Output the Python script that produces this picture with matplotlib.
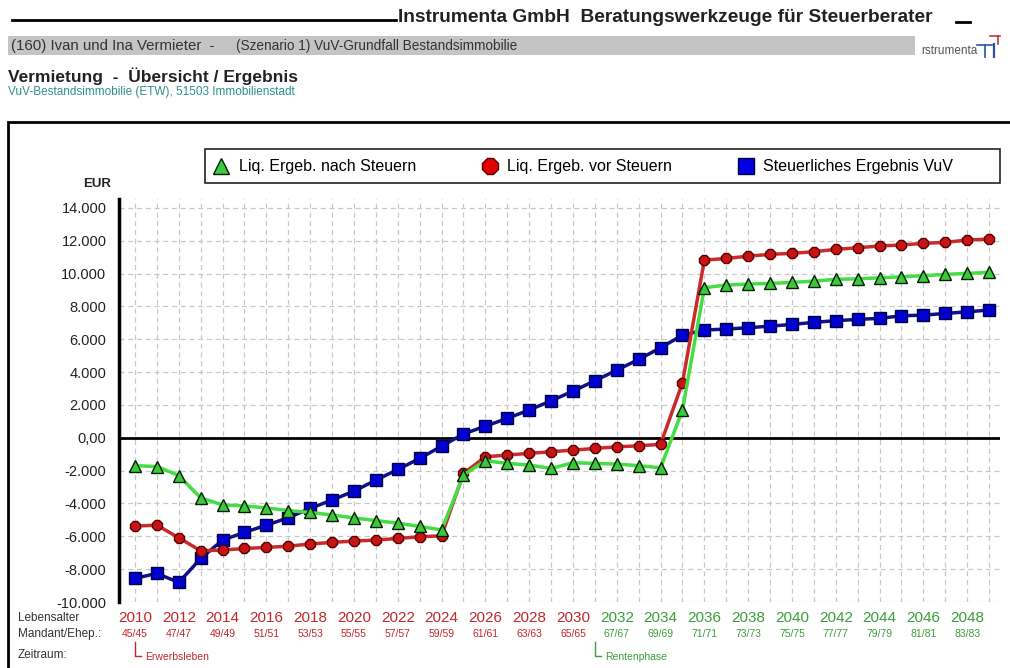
import matplotlib
matplotlib.use('Agg')
import matplotlib.pyplot as plt
from matplotlib.lines import Line2D
from matplotlib.patches import Rectangle
from matplotlib.transforms import blended_transform_factory

plt.rcParams['font.family'] = ['Liberation Sans', 'DejaVu Sans']

years = list(range(2010, 2050))

nach_steuern = [-1700, -1750, -2300, -3660, -4090, -4150, -4270, -4430, -4550, -4700,
                -4880, -5040, -5200, -5400, -5610, -2270, -1400, -1560, -1660, -1870,
                -1520, -1560, -1600, -1700, -1830, 1690, 9140, 9300, 9360, 9400,
                9460, 9540, 9650, 9680, 9740, 9800, 9870, 9950, 10010, 10070]
vor_steuern = [-5380, -5320, -6090, -6880, -6840, -6740, -6680, -6600, -6470, -6370,
               -6290, -6230, -6130, -6030, -5970, -2170, -1160, -1050, -950, -850,
               -750, -650, -550, -490, -400, 3350, 10820, 10920, 11060, 11170,
               11230, 11330, 11470, 11570, 11680, 11740, 11840, 11900, 12040, 12100]
steuer_vuv = [-8560, -8260, -8810, -7350, -6230, -5760, -5320, -4870, -4300, -3790,
              -3250, -2580, -1930, -1260, -510, 230, 710, 1180, 1690, 2250,
              2840, 3470, 4120, 4770, 5480, 6250, 6560, 6620, 6700, 6800,
              6900, 7030, 7130, 7210, 7270, 7430, 7470, 7570, 7670, 7780]

label_years = list(range(2010, 2049, 2))
ages = ['45/45', '47/47', '49/49', '51/51', '53/53', '55/55', '57/57', '59/59', '61/61', '63/63',
        '65/65', '67/67', '69/69', '71/71', '73/73', '75/75', '77/77', '79/79', '81/81', '83/83']
rente_start = 2031
y_ticks = list(range(-10000, 14001, 2000))

RED = '#c0282c'
GREEN = '#3a9e3a'

W, H = 1010, 668
fig = plt.figure(figsize=(W / 100, H / 100), dpi=100)

def fx(px):
    return px / W

def fy(py):
    return 1 - py / H

# header
fig.add_artist(Line2D([fx(12), fx(396)], [fy(20), fy(20)], color='black', lw=2))
fig.text(fx(398), fy(18), 'Instrumenta GmbH  Beratungswerkzeuge für Steuerberater',
         fontsize=13.8, fontweight='bold', color='#222222', va='center', ha='left')
fig.add_artist(Line2D([fx(956), fx(970)], [fy(22), fy(22)], color='black', lw=2))
fig.add_artist(Rectangle((fx(8), fy(55)), fx(907), 19 / H, color='#c4c4c4', lw=0))
fig.text(fx(11), fy(46), '(160) Ivan und Ina Vermieter  -', fontsize=10.8, color='#333333', va='center')
fig.text(fx(236), fy(46), '(Szenario 1) VuV-Grundfall Bestandsimmobilie', fontsize=9.8,
         color='#333333', va='center')
# logo
fig.text(fx(921), fy(51), 'rstrumenta', fontsize=8.5, color='#555555', va='center')
fig.add_artist(Line2D([fx(977), fx(992)], [fy(45), fy(45)], color='#3050a0', lw=1.2))
fig.add_artist(Line2D([fx(985), fx(985)], [fy(45), fy(57)], color='#3050a0', lw=1.2))
fig.add_artist(Line2D([fx(994), fx(994)], [fy(44), fy(57)], color='#3050a0', lw=1.6))
fig.add_artist(Line2D([fx(990), fx(1000)], [fy(36), fy(36)], color='#cc3333', lw=1.2))
fig.add_artist(Line2D([fx(998), fx(998)], [fy(36), fy(44)], color='#cc3333', lw=1.2))

fig.text(fx(8), fy(76), 'Vermietung  -  Übersicht / Ergebnis', fontsize=12.5, fontweight='bold',
         color='#222222', va='center')
fig.text(fx(8), fy(92), 'VuV-Bestandsimmobilie (ETW), 51503 Immobilienstadt', fontsize=8.5,
         color='#2e8f8f', va='center')

# chart frame
fig.add_artist(Rectangle((fx(8), fy(680)), fx(1020), 558 / H, fill=False, ec='black', lw=2))

ax = fig.add_axes([fx(119), fy(602), fx(1000 - 119), (602 - 199) / H])
ax.set_xlim(2009.27, 2049.5)
ax.set_ylim(-10000, 14540)

ax.plot(years, steuer_vuv, color='#10108c', lw=2.5, marker='s', ms=8.5,
        mfc='#0000d0', mec='#000040', zorder=3)
ax.plot(years, vor_steuern, color='#cc2a2a', lw=2.5, marker='8', ms=8.5,
        mfc='#c81414', mec='#5a0000', zorder=4)
ax.plot(years, nach_steuern, color='#44dd44', lw=2.5, marker='^', ms=9,
        mfc='#3cc83c', mec='#002000', zorder=5)
ax.axhline(0, color='black', lw=2, zorder=2)

ax.set_xticks(years)
ax.set_xticklabels([])
ax.set_yticks(y_ticks)
ax.set_yticklabels(['0,00' if v == 0 else f'{v:,}'.replace(',', '.') for v in y_ticks],
                   fontsize=10.5, color='#222222')
ax.tick_params(axis='both', length=0)
ax.tick_params(axis='y', pad=9)
ax.grid(True, color='#c8c8c8', ls=(0, (4, 3)), lw=0.9)
for s in ['top', 'right', 'bottom']:
    ax.spines[s].set_visible(False)
ax.spines['left'].set_linewidth(2.5)

trans = blended_transform_factory(ax.transData, fig.transFigure)
for yr, age in zip(label_years, ages):
    col = RED if yr <= 2030 else GREEN
    ax.text(yr, fy(618), str(yr), transform=trans, fontsize=11, color=col,
            ha='center', va='center')
    ax.text(yr, fy(634), age, transform=trans, fontsize=7.5, color=col,
            ha='center', va='center')

for yr, name, col in [(years[0], 'Erwerbsleben', RED), (rente_start, 'Rentenphase', GREEN)]:
    ax.add_artist(Line2D([yr, yr, yr + 0.28], [fy(642), fy(656), fy(656)], transform=trans,
                         color=col, lw=1, clip_on=False))
    ax.text(yr + 0.45, fy(657), name, transform=trans, fontsize=7.5, color=col,
            ha='left', va='center')

fig.text(fx(18), fy(618), 'Lebensalter', fontsize=8.5, color='#333333', va='center')
fig.text(fx(18), fy(634), 'Mandant/Ehep.:', fontsize=8.5, color='#333333', va='center')
fig.text(fx(18), fy(655), 'Zeitraum:', fontsize=8.5, color='#333333', va='center')
fig.text(fx(97), fy(184), 'EUR', fontsize=9.5, fontweight='bold', color='#222222',
         ha='center', va='center')

# legend (frame drawn separately so it spans the same width as in the original)
fig.add_artist(Rectangle((fx(205), fy(183)), fx(795), 34 / H, fill=False,
                         ec='#222222', lw=1.2))
handles = [
    Line2D([], [], ls='none', marker='^', ms=12, mfc='#3cc83c', mec='#002000'),
    Line2D([], [], ls='none', marker='8', ms=12, mfc='#e00000', mec='#5a0000'),
    Line2D([], [], ls='none', marker='s', ms=12, mfc='#0000e0', mec='#000040'),
]
names = ['Liq. Ergeb. nach Steuern', 'Liq. Ergeb. vor Steuern', 'Steuerliches Ergebnis VuV']
leg = fig.legend(handles, names, loc='center left', ncol=3, columnspacing=4.0,
                 bbox_to_anchor=(fx(207), fy(167)), frameon=False,
                 fontsize=11.5, handletextpad=0.5, handlelength=1.2,
                 borderaxespad=0, borderpad=0.3)

fig.savefig('out.png', dpi=100)
